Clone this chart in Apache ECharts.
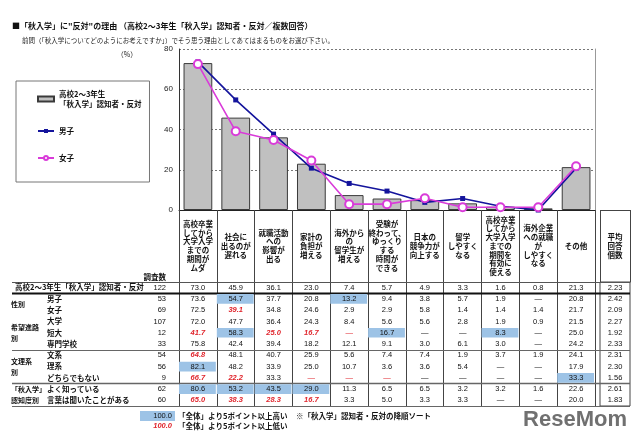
<!DOCTYPE html>
<html><head><meta charset="utf-8">
<script src="https://cdn.jsdelivr.net/npm/echarts@6/dist/echarts.min.js"></script>
<style>html,body{margin:0;padding:0;background:#fff}#c{width:640px;height:437px}</style>
</head><body><div id="c"></div>
<script>
// ---------- data ----------
const reasons = ['高校卒業\nしてから\n大学入学\nまでの\n期間が\nムダ', '社会に\n出るのが\n遅れる', '就職活動\nへの\n影響が\n出る', '家計の\n負担が\n増える', '海外から\nの\n留学生が\n増える', '受験が\n終わって、\nゆっくり\nする\n時間が\nできる', '日本の\n競争力が\n向上する', '留学\nしやすく\nなる', '高校卒業\nしてから\n大学入学\nまでの\n期間を\n有効に\n使える', '海外企業\nへの就職\nが\nしやすく\nなる', 'その他'];
const barName = '高校2～3年生\n「秋入学」認知者・反対';
const totalPct = [73.0, 45.9, 36.1, 23.0, 7.4, 5.7, 4.9, 3.3, 1.6, 0.8, 21.3];
const boysPct  = [73.6, 54.7, 37.7, 20.8, 13.2, 9.4, 3.8, 5.7, 1.9, 0, 20.8];
const girlsPct = [72.5, 39.1, 34.8, 24.6, 2.9, 2.9, 5.8, 1.4, 1.4, 1.4, 21.7];

const rowLabels = ['高校2～3年生「秋入学」認知者・反対', '男子', '女子', '大学', '短大', '専門学校', '文系', '理系', 'どちらでもない', 'よく知っている', '言葉は聞いたことがある'];
const rowCounts = ['122', '53', '69', '107', '12', '33', '54', '56', '9', '62', '60'];
const groupNames = ['性別', '希望進路\n別', '文理系\n別', '「秋入学」\n認知度別'];
const groupFrom  = [1, 3, 6, 9];
const groupTo    = [2, 5, 8, 10];
const tableValues = [
  ['73.0','45.9','36.1','23.0','7.4','5.7','4.9','3.3','1.6','0.8','21.3'],
  ['73.6','54.7','37.7','20.8','13.2','9.4','3.8','5.7','1.9','—','20.8'],
  ['72.5','39.1','34.8','24.6','2.9','2.9','5.8','1.4','1.4','1.4','21.7'],
  ['72.0','47.7','36.4','24.3','8.4','5.6','5.6','2.8','1.9','0.9','21.5'],
  ['41.7','58.3','25.0','16.7','—','16.7','—','—','8.3','—','25.0'],
  ['75.8','42.4','39.4','18.2','12.1','9.1','3.0','6.1','3.0','—','24.2'],
  ['64.8','48.1','40.7','25.9','5.6','7.4','7.4','1.9','3.7','1.9','24.1'],
  ['82.1','48.2','33.9','25.0','10.7','3.6','3.6','5.4','—','—','17.9'],
  ['66.7','22.2','33.3','—','—','—','—','—','—','—','33.3'],
  ['80.6','53.2','43.5','29.0','11.3','6.5','6.5','3.2','3.2','1.6','22.6'],
  ['65.0','38.3','28.3','16.7','3.3','5.0','3.3','3.3','—','—','20.0']
];
// h = 5pt higher (blue cell), l = 5pt lower (red italic)
const tableFlags = [
  '...........',
  '.h..h......',
  '.l.........',
  '...........',
  'lhlllh..h..',
  '...........',
  'l..........',
  'h..........',
  'll.lll....h',
  'hhhh.......',
  'llll.......'
];
const avgValues = ['2.23','2.42','2.09','2.27','1.92','2.33','2.31','2.30','1.56','2.61','1.83'];
const avgHeader = ['平均\n回答\n個数'];

// ---------- layout / style ----------
const NUM = "'Liberation Sans','Noto Sans CJK JP',sans-serif";
const JP = "'Noto Sans CJK JP',sans-serif";
const L = {
  main: {left: 179, top: 49, width: 416, height: 161},
  table: {left: 179, top: 282, width: 416, height: 124},
  avg: {left: 600, top: 282, width: 30, height: 124},
  lineL: 12, lineR: 630, groupX: 11, subX: 47, totalX: 15, countX: 166
};
const BLUE_CELL = '#9DC3E6', RED = '#E0242B';
const TX = 1, TY = 2, AX = 2, AY = 3; // axis indices of table / avg grids

const cells = [];
tableValues.forEach((row, r) => row.forEach((t, c) => cells.push({c, r, t, f: tableFlags[r][c]})));

const chart = echarts.init(document.getElementById('c'));
const option = {
  animation: false,
  textStyle: {fontFamily: NUM},
  title: [
    {text: '■「秋入学」に"反対"の理由 （高校2～3年生「秋入学」認知者・反対／複数回答）', left: 7, top: 17,
     textStyle: {fontSize: 8, fontWeight: 'bold', color: '#111', fontFamily: JP}},
    {text: '前問（「秋入学についてどのようにお考えですか」）でそう思う理由としてあてはまるものをお選び下さい。', left: 17, top: 32,
     textStyle: {fontSize: 6.5, fontWeight: 'normal', color: '#222', fontFamily: JP}}
  ],
  legend: {
    orient: 'vertical', left: 16, top: 81, padding: [8, 8, 19, 21], itemGap: 17,
    itemWidth: 16, itemHeight: 5, borderColor: '#777', borderWidth: 1,
    textStyle: {fontSize: 7.5, lineHeight: 10, fontWeight: 'bold', color: '#111', fontFamily: JP},
    data: [{name: barName, icon: 'rect'}, '男子', '女子']
  },
  grid: [
    Object.assign({}, L.main),
    Object.assign({}, L.table),
    Object.assign({show: true, borderColor: '#444', borderWidth: 1}, L.avg)
  ],
  xAxis: [
    {gridIndex: 0, type: 'category', data: reasons,
     axisLine: {lineStyle: {color: '#222'}},
     axisTick: {show: true, interval: 0, length: 196, lineStyle: {color: '#444'}},
     axisLabel: {interval: 0, margin: 36, verticalAlign: 'middle', fontSize: 7.5, lineHeight: 8.7, fontWeight: 'bold', color: '#111', fontFamily: JP}},
    {gridIndex: 1, type: 'category', data: reasons, show: false},
    {gridIndex: 2, type: 'category', data: avgHeader, position: 'top',
     axisLine: {lineStyle: {color: '#444'}},
     axisTick: {show: true, interval: 0, length: 72, lineStyle: {color: '#444'}},
     axisLabel: {margin: 36, verticalAlign: 'middle', fontSize: 7.5, lineHeight: 8.7, fontWeight: 'bold', color: '#111', fontFamily: JP}}
  ],
  yAxis: [
    {gridIndex: 0, type: 'value', min: 0, max: 80, interval: 20,
     axisLine: {show: true, lineStyle: {color: '#333'}}, axisTick: {show: false},
     axisLabel: {fontSize: 8, color: '#222', margin: 6},
     splitLine: {lineStyle: {type: [2, 2], color: '#777'}}},
    {gridIndex: 0, type: 'value', min: 0, max: 80, interval: 20, position: 'right',
     axisLine: {show: true, lineStyle: {color: '#999'}}, axisTick: {show: false},
     axisLabel: {show: false}, splitLine: {show: false}},
    {gridIndex: 1, type: 'category', data: rowLabels, inverse: true, show: false},
    {gridIndex: 2, type: 'category', data: rowLabels, inverse: true, show: false}
  ],
  series: [
    {name: barName, type: 'bar', xAxisIndex: 0, yAxisIndex: 0, data: totalPct, barWidth: '76%',
     itemStyle: {color: '#C0C0C0', borderColor: '#3a3a3a', borderWidth: 1}, z: 2},
    {name: '男子', type: 'line', xAxisIndex: 0, yAxisIndex: 0, data: boysPct, symbol: 'rect', symbolSize: 5,
     itemStyle: {color: '#14149C'}, lineStyle: {width: 1.6, color: '#14149C'}, z: 3},
    {name: '女子', type: 'line', xAxisIndex: 0, yAxisIndex: 0, data: girlsPct, symbol: 'emptyCircle', symbolSize: 8,
     itemStyle: {color: '#D93BD9', borderWidth: 1.3}, lineStyle: {width: 1.6, color: '#D93BD9'}, z: 4},
    // table cells
    {type: 'custom', coordinateSystem: 'cartesian2d', xAxisIndex: TX, yAxisIndex: TY, clip: false, silent: true, z: 5,
     data: cells.map(o => [o.c, o.r]),
     renderItem: (params, api) => {
       const o = cells[params.dataIndex];
       const p = api.coord([api.value(0), api.value(1)]);
       const s = api.size([1, 1]);
       const ch = [];
       if (o.f === 'h') ch.push({type: 'rect', shape: {x: p[0] - s[0] / 2, y: p[1] - s[1] / 2 + 0.8, width: s[0] - 1, height: s[1] - 1.6}, style: {fill: BLUE_CELL}});
       ch.push({type: 'text', style: {x: p[0], y: p[1], text: o.t, align: 'center', verticalAlign: 'middle', fontSize: 7.5, fontFamily: NUM,
         fill: o.f === 'l' ? RED : '#111', fontStyle: o.f === 'l' ? 'italic' : 'normal', fontWeight: o.f === 'l' ? 'bold' : 'normal'}});
       return {type: 'group', children: ch};
     }},
    // row labels + counts
    {type: 'custom', coordinateSystem: 'cartesian2d', xAxisIndex: TX, yAxisIndex: TY, clip: false, silent: true, z: 5,
     data: rowLabels.map((_, r) => [0, r]),
     renderItem: (params, api) => {
       const r = api.value(1);
       const y = api.coord([0, r])[1];
       return {type: 'group', children: [
         {type: 'text', style: {x: r === 0 ? L.totalX : L.subX, y, text: rowLabels[r], align: 'left', verticalAlign: 'middle', fontSize: 7.5, fontWeight: 'bold', fontFamily: JP, fill: '#111'}},
         {type: 'text', style: {x: L.countX, y, text: rowCounts[r], align: 'right', verticalAlign: 'middle', fontSize: 7.5, fontFamily: NUM, fill: '#111'}}
       ]};
     }},
    // group labels
    {type: 'custom', coordinateSystem: 'cartesian2d', xAxisIndex: TX, yAxisIndex: TY, clip: false, silent: true, z: 5,
     data: groupNames.map((_, i) => [0, groupFrom[i], groupTo[i]]),
     renderItem: (params, api) => {
       const y = (api.coord([0, api.value(1)])[1] + api.coord([0, api.value(2)])[1]) / 2;
       const band = api.size([1, 1])[1];
       return {type: 'text', style: {x: L.groupX, y, text: groupNames[params.dataIndex], align: 'left', verticalAlign: 'middle',
         fontSize: 7, lineHeight: band, fontWeight: 'bold', fontFamily: JP, fill: '#111'}};
     }},
    // average column
    {type: 'custom', coordinateSystem: 'cartesian2d', xAxisIndex: AX, yAxisIndex: AY, clip: false, silent: true, z: 5,
     data: avgValues.map((_, r) => [0, r]),
     renderItem: (params, api) => {
       const p = api.coord([0, api.value(1)]);
       return {type: 'text', style: {x: p[0], y: p[1], text: avgValues[params.dataIndex], align: 'center', verticalAlign: 'middle', fontSize: 7.5, fontFamily: NUM, fill: '#111'}};
     }}
  ]
};
chart.setOption(option);

// structural lines computed from the table's own scale
const rowY = r => chart.convertToPixel({xAxisIndex: TX, yAxisIndex: TY}, [0, r])[1];
const rowBand = rowY(1) - rowY(0);
const after = r => Math.round(rowY(r) + rowBand / 2) + 0.5;
const tableTopY = Math.round(rowY(0) - rowBand / 2) + 0.5;
const hline = (y, w, c) => ({type: 'line', z: 1, shape: {x1: L.lineL, y1: y, x2: L.lineR, y2: y}, style: {stroke: c, lineWidth: w}});
chart.setOption({
  graphic: [
    hline(tableTopY, 1, '#555'),
    hline(after(0), 2, '#111'),
    hline(after(5), 1, '#666'),
    hline(after(8), 1.5, '#666'),
    hline(after(10), 1, '#666'),
    {type: 'line', shape: {x1: L.avg.left, y1: L.main.top + L.main.height + 0.5, x2: L.avg.left + L.avg.width, y2: L.main.top + L.main.height + 0.5}, style: {stroke: '#444', lineWidth: 1}},
    {type: 'text', style: {x: 127, y: 54, text: '（%）', align: 'center', verticalAlign: 'middle', fontSize: 7, fontFamily: JP, fill: '#222'}},
    {type: 'text', style: {x: L.countX, y: 277, text: '調査数', align: 'right', verticalAlign: 'middle', fontSize: 7.5, fontWeight: 'bold', fontFamily: JP, fill: '#111'}},
    {type: 'rect', shape: {x: 140, y: 411, width: 35, height: 10}, style: {fill: BLUE_CELL}},
    {type: 'text', style: {x: 172, y: 416, text: '100.0', align: 'right', verticalAlign: 'middle', fontSize: 7.5, fontFamily: NUM, fill: '#111'}},
    {type: 'text', style: {x: 172, y: 426, text: '100.0', align: 'right', verticalAlign: 'middle', fontSize: 7.5, fontFamily: NUM, fontStyle: 'italic', fontWeight: 'bold', fill: RED}},
    {type: 'text', style: {x: 178, y: 416, text: '「全体」より5ポイント以上高い', align: 'left', verticalAlign: 'middle', fontSize: 7.5, fontWeight: 'bold', fontFamily: JP, fill: '#111'}},
    {type: 'text', style: {x: 178, y: 426, text: '「全体」より5ポイント以上低い', align: 'left', verticalAlign: 'middle', fontSize: 7.5, fontWeight: 'bold', fontFamily: JP, fill: '#111'}},
    {type: 'text', style: {x: 296, y: 416, text: '※「秋入学」認知者・反対の降順ソート', align: 'left', verticalAlign: 'middle', fontSize: 7.5, fontWeight: 'bold', fontFamily: JP, fill: '#111'}},
    {type: 'text', z: 100, style: {x: 575, y: 420, text: 'ReseMom', align: 'center', verticalAlign: 'middle', fontSize: 22, fontWeight: 'bold', fontFamily: "'Liberation Sans',sans-serif", fill: '#707070', stroke: '#fff', lineWidth: 2}}
  ]
});
</script></body></html>
